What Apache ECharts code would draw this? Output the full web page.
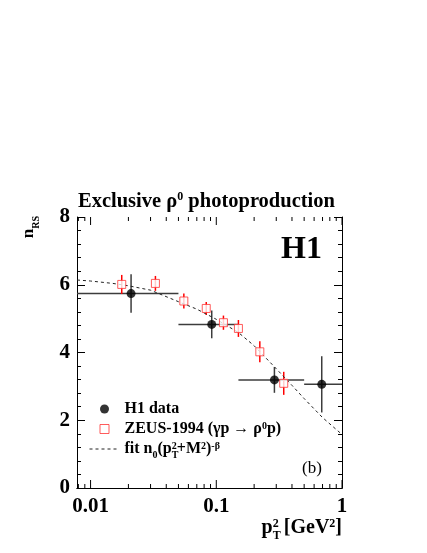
<!DOCTYPE html>
<html>
<head>
<meta charset="utf-8">
<script src="https://cdn.jsdelivr.net/npm/echarts@6/dist/echarts.min.js"></script>
<style>
  html, body { margin: 0; padding: 0; background: #fff; }
  #chart { width: 427px; height: 553px; }
</style>
</head>
<body>
<div id="chart"></div>
<script>
  // H1 measurements (black points)
  const h1X = [0.021, 0.092, 0.29, 0.69];
  const h1Y = [5.74, 4.83, 3.19, 3.06];
  const h1XLo = [0, 0.05, 0.15, 0.5];
  const h1XHi = [0.05, 0.15, 0.5, 1.0];
  const h1Err = [0.57, 0.41, 0.38, 0.83];

  // ZEUS-1994 (red open squares)
  const zeusX = [0.0177, 0.0328, 0.0552, 0.0832, 0.114, 0.150, 0.222, 0.344];
  const zeusY = [6.01, 6.04, 5.52, 5.30, 4.88, 4.71, 4.02, 3.09];
  const zeusErr = [0.28, 0.22, 0.22, 0.19, 0.21, 0.25, 0.31, 0.34];

  // dashed fit curve
  const fitX = [0.0078, 0.01, 0.015, 0.02, 0.03, 0.05, 0.07, 0.1, 0.15, 0.2, 0.3, 0.4, 0.5, 0.7, 1.0];
  const fitY = [6.14, 6.11, 6.04, 5.97, 5.84, 5.50, 5.28, 4.98, 4.59, 4.20, 3.52, 3.03, 2.64, 2.08, 1.58];

  // log axis ticks
  const xMajorTicks = [0.01, 0.1, 1];
  const xMinorTicks = [0.008, 0.009, 0.02, 0.03, 0.04, 0.05, 0.06, 0.07, 0.08, 0.09,
    0.2, 0.3, 0.4, 0.5, 0.6, 0.7, 0.8, 0.9];

  const X_MIN = 0.0078, X_MAX = 1, Y_MIN = 0, Y_MAX = 8;
  const serif = 'Liberation Serif, Times New Roman, serif';
  const chart = echarts.init(document.getElementById('chart'));

  const supSub = {
    sub: { fontSize: 10, fontFamily: serif, fontWeight: 'bold', verticalAlign: 'bottom', lineHeight: 10, padding: [0, 0, -3, 0] },
    subT: { fontSize: 10, fontFamily: serif, fontWeight: 'bold', verticalAlign: 'bottom', lineHeight: 10, padding: [0, 0, -3, 0], width: 0.1 },
    sup: { fontSize: 10, fontFamily: serif, fontWeight: 'bold', verticalAlign: 'top', lineHeight: 10 }
  };

  const tickData = xMajorTicks.map(v => [v, 1]).concat(xMinorTicks.map(v => [v, 0]));

  const option = {
    animation: false,
    title: {
      text: 'Exclusive ρ{sup|0} photoproduction',
      left: 78,
      top: 191,
      padding: 0,
      textStyle: {
        fontFamily: serif, fontWeight: 'bold', fontSize: 20.5, color: '#000', lineHeight: 22,
        rich: {
          sup: { fontFamily: serif, fontWeight: 'bold', fontSize: 12, verticalAlign: 'top', lineHeight: 12 }
        }
      }
    },
    legend: {
      orient: 'vertical',
      left: 89,
      top: 401,
      itemWidth: 30,
      itemHeight: 9,
      itemGap: 4,
      padding: 0,
      textStyle: {
        fontFamily: serif, fontWeight: 'bold', fontSize: 16, color: '#000',
        rich: supSub
      },
      formatter: function (name) {
        if (name === 'ZEUS-1994') return 'ZEUS-1994 (γp → ρ{sup|0}p)';
        if (name === 'fit') return 'fit n{sub|0}(p{subT|T}{sup|2}+M{sup|2}){sup|-β}';
        return name;
      },
      data: [
        { name: 'H1 data', icon: 'circle', itemStyle: { color: '#000' } },
        {
          name: 'ZEUS-1994',
          icon: 'path://M0,0L10,0L10,10L0,10Z',
          itemStyle: { color: '#fff', borderColor: '#f33', borderWidth: 1 }
        },
        {
          name: 'fit',
          itemStyle: { color: 'rgba(0,0,0,0)', borderColor: 'rgba(0,0,0,0)', borderWidth: 0 },
          lineStyle: { color: '#222', width: 1, type: [3, 3] }
        }
      ]
    },
    grid: { left: 77, right: 85, top: 217, bottom: 65 },
    xAxis: [{
      type: 'log',
      logBase: 10,
      min: X_MIN,
      max: X_MAX,
      position: 'bottom',
      axisLine: { lineStyle: { color: '#000', width: 1 } },
      axisTick: { show: false },
      minorTick: { show: false },
      splitLine: { show: false },
      axisLabel: {
        margin: 8,
        color: '#000',
        fontFamily: serif,
        fontWeight: 'bold',
        fontSize: 21,
        showMinLabel: false,
        formatter: function (v) {
          const l = Math.log10(v);
          if (Math.abs(l - Math.round(l)) > 1e-6) return '';
          return String(+v.toPrecision(3));
        }
      }
    }, {
      type: 'log',
      logBase: 10,
      min: X_MIN,
      max: X_MAX,
      position: 'top',
      axisLine: { lineStyle: { color: '#000', width: 1 } },
      axisTick: { show: false },
      axisLabel: { show: false },
      splitLine: { show: false }
    }],
    yAxis: [{
      type: 'value',
      min: Y_MIN,
      max: Y_MAX,
      interval: 2,
      position: 'left',
      axisLine: { show: true, lineStyle: { color: '#000', width: 1 } },
      axisTick: { show: true, inside: true, length: 8, lineStyle: { color: '#000' } },
      minorTick: { show: true, splitNumber: 5, length: 4, lineStyle: { color: '#000' } },
      splitLine: { show: false },
      axisLabel: { margin: 7, color: '#000', fontFamily: serif, fontWeight: 'bold', fontSize: 21 }
    }, {
      type: 'value',
      min: Y_MIN,
      max: Y_MAX,
      interval: 2,
      position: 'right',
      axisLine: { show: true, lineStyle: { color: '#000', width: 1 } },
      axisTick: { show: true, inside: true, length: 8, lineStyle: { color: '#000' } },
      minorTick: { show: true, splitNumber: 5, length: 4, lineStyle: { color: '#000' } },
      splitLine: { show: false },
      axisLabel: { show: false }
    }],
    graphic: [
      {
        type: 'text', left: 20, top: 216, rotation: Math.PI / 2,
        style: {
          text: 'n{s|RS}',
          font: 'bold 17px ' + serif,
          fill: '#000',
          rich: { s: { fontSize: 10, fontFamily: serif, fontWeight: 'bold', verticalAlign: 'bottom', lineHeight: 10, padding: [0, 0, -4, 0] } }
        }
      },
      {
        type: 'text', right: 85, top: 518,
        style: {
          text: 'p{s|T}{u|2} [GeV{v|2}]',
          font: 'bold 20px ' + serif,
          fill: '#000',
          rich: {
            s: { fontSize: 12, fontFamily: serif, fontWeight: 'bold', verticalAlign: 'bottom', lineHeight: 12, padding: [0, 0, -4, 0], width: 0.1 },
            u: { fontSize: 12, fontFamily: serif, fontWeight: 'bold', verticalAlign: 'top', lineHeight: 12 },
            v: { fontSize: 12, fontFamily: serif, fontWeight: 'bold', verticalAlign: 'top', lineHeight: 12 }
          }
        }
      },
      {
        type: 'text', left: 281, top: 234,
        style: { text: 'H1', font: 'bold 32px ' + serif, fill: '#000' }
      },
      {
        type: 'text', left: 302, top: 460,
        style: { text: '(b)', font: '17px ' + serif, fill: '#000' }
      }
    ],
    series: [
      {
        name: 'xticks',
        type: 'custom',
        silent: true,
        xAxisIndex: 0,
        yAxisIndex: 0,
        data: tickData,
        encode: { x: 0 },
        renderItem: function (params, api) {
          const v = api.value(0);
          const len = api.value(1) ? 8 : 4;
          const b = api.coord([v, Y_MIN]);
          const t = api.coord([v, Y_MAX]);
          const st = { stroke: '#000', lineWidth: 1 };
          return {
            type: 'group',
            children: [
              { type: 'line', shape: { x1: b[0], y1: b[1], x2: b[0], y2: b[1] - len }, style: st },
              { type: 'line', shape: { x1: t[0], y1: t[1], x2: t[0], y2: t[1] + len }, style: st }
            ]
          };
        }
      },
      {
        name: 'h1err',
        type: 'custom',
        silent: true,
        data: h1X.map((x, i) => [x, h1Y[i], h1XLo[i], h1XHi[i], h1Err[i]]),
        encode: { x: 0, y: 1 },
        renderItem: function (params, api) {
          const x = api.value(0), y = api.value(1);
          const lo = Math.max(api.value(2), X_MIN), hi = Math.min(api.value(3), X_MAX);
          const e = api.value(4);
          const pl = api.coord([lo, y]), pr = api.coord([hi, y]);
          const pt = api.coord([x, y + e]), pb = api.coord([x, y - e]);
          const st = { stroke: '#3c3c3c', lineWidth: 1.5 };
          return {
            type: 'group',
            children: [
              { type: 'line', shape: { x1: pl[0], y1: pl[1], x2: pr[0], y2: pr[1] }, style: st },
              { type: 'line', shape: { x1: pt[0], y1: pt[1], x2: pb[0], y2: pb[1] }, style: st }
            ]
          };
        }
      },
      {
        name: 'zeuserr',
        type: 'custom',
        silent: true,
        data: zeusX.map((x, i) => [x, zeusY[i], zeusErr[i]]),
        encode: { x: 0, y: 1 },
        renderItem: function (params, api) {
          const x = api.value(0), y = api.value(1), e = api.value(2);
          const pt = api.coord([x, y + e]), pb = api.coord([x, y - e]);
          return {
            type: 'line',
            shape: { x1: pt[0], y1: pt[1], x2: pb[0], y2: pb[1] },
            style: { stroke: '#f00', lineWidth: 1.5 }
          };
        }
      },
      {
        name: 'fit',
        type: 'line',
        data: fitX.map((x, i) => [x, fitY[i]]),
        symbol: 'none',
        smooth: false,
        z: 3,
        lineStyle: { color: '#222', width: 1, type: [3, 3] },
        itemStyle: { color: 'rgba(0,0,0,0)' }
      },
      {
        name: 'ZEUS-1994',
        type: 'scatter',
        data: zeusX.map((x, i) => [x, zeusY[i]]),
        symbol: 'rect',
        symbolSize: 8,
        z: 4,
        itemStyle: { color: '#fff', borderColor: '#f33', borderWidth: 1 }
      },
      {
        name: 'H1 data',
        type: 'scatter',
        data: h1X.map((x, i) => [x, h1Y[i]]),
        symbol: 'circle',
        symbolSize: 9,
        z: 5,
        itemStyle: { color: '#000' }
      }
    ]
  };

  chart.setOption(option);
</script>
</body>
</html>
